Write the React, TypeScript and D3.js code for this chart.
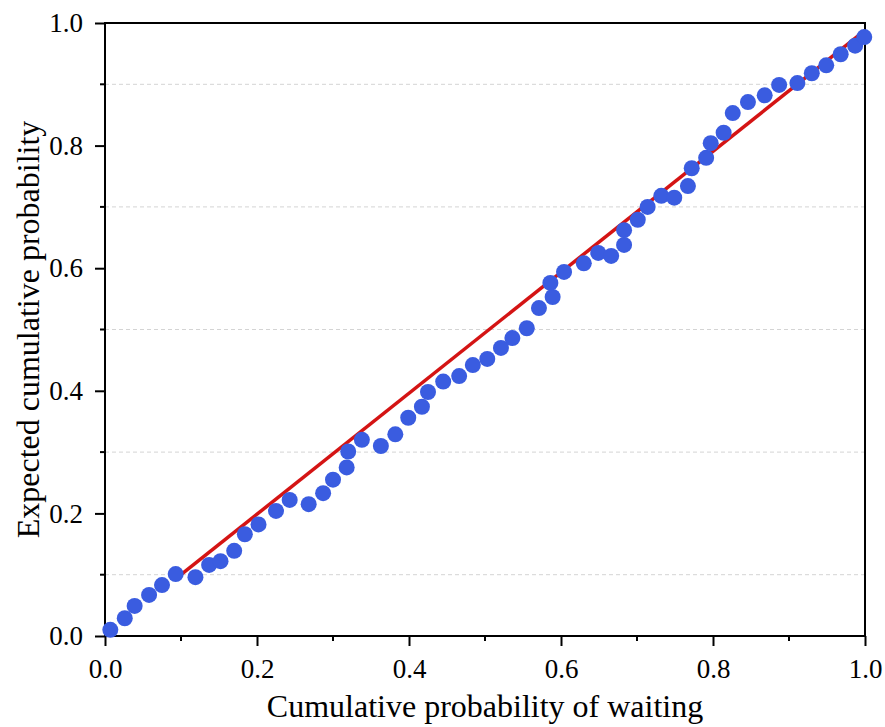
import React, { useEffect, useRef } from "react";
import * as d3 from "d3";

const waitingProb = [
  0.007, 0.026, 0.039, 0.058, 0.075, 0.093, 0.119, 0.137, 0.152, 0.170,
  0.184, 0.202, 0.225, 0.243, 0.268, 0.287, 0.300, 0.318, 0.320, 0.338,
  0.363, 0.382, 0.399, 0.417, 0.425, 0.445, 0.466, 0.484, 0.503, 0.521,
  0.536, 0.555, 0.571, 0.589, 0.586, 0.604, 0.630, 0.649, 0.666, 0.683,
  0.683, 0.701, 0.714, 0.732, 0.749, 0.767, 0.772, 0.791, 0.797, 0.814,
  0.826, 0.846, 0.868, 0.887, 0.911, 0.930, 0.949, 0.968, 0.987, 0.999
];
const expectedProb = [
  0.010, 0.029, 0.049, 0.067, 0.083, 0.101, 0.096, 0.116, 0.122, 0.139,
  0.166, 0.182, 0.204, 0.222, 0.215, 0.233, 0.255, 0.275, 0.301, 0.320,
  0.310, 0.329, 0.356, 0.374, 0.398, 0.415, 0.424, 0.442, 0.452, 0.470,
  0.486, 0.502, 0.535, 0.553, 0.576, 0.594, 0.608, 0.625, 0.620, 0.638,
  0.662, 0.679, 0.700, 0.718, 0.715, 0.734, 0.763, 0.780, 0.804, 0.821,
  0.853, 0.871, 0.882, 0.899, 0.902, 0.918, 0.931, 0.949, 0.963, 0.977
];
// reference line (expected = observed)
const refLine = [
  [0.1, 0.1],
  [1.0, 0.988]
];
const majorTicks = [0, 0.2, 0.4, 0.6, 0.8, 1.0];
const minorTicks = [0.1, 0.3, 0.5, 0.7, 0.9];

const App = () => {
  const ref = useRef<SVGSVGElement>(null);

  useEffect(() => {
    const svg = d3.select(ref.current);
    svg.selectAll("*").remove();

    const left = 105, right = 865, top = 23, bottom = 636;
    const x = d3.scaleLinear().domain([0, 1]).range([left, right]);
    const y = d3.scaleLinear().domain([0, 1]).range([bottom, top]);
    const font = "'Liberation Serif', 'Times New Roman', serif";

    // dashed grid at minor positions
    svg
      .append("g")
      .selectAll("line")
      .data(minorTicks)
      .enter()
      .append("line")
      .attr("x1", left)
      .attr("x2", right)
      .attr("y1", d => y(d))
      .attr("y2", d => y(d))
      .attr("stroke", "#d4d4d4")
      .attr("stroke-width", 1)
      .attr("stroke-dasharray", "4,3");

    // axes
    const xAxis = d3
      .axisBottom(x)
      .tickValues(majorTicks)
      .tickFormat(d3.format(".1f"))
      .tickSize(10)
      .tickPadding(13);
    const yAxis = d3
      .axisLeft(y)
      .tickValues(majorTicks)
      .tickFormat(d3.format(".1f"))
      .tickSize(10)
      .tickPadding(12);

    const gx = svg
      .append("g")
      .attr("transform", "translate(0," + bottom + ")")
      .call(xAxis);
    const gy = svg
      .append("g")
      .attr("transform", "translate(" + left + ",0)")
      .call(yAxis);
    [gx, gy].forEach(g => {
      g.select(".domain").remove();
      g.selectAll("line").attr("stroke", "#000").attr("stroke-width", 2);
      g.selectAll("text")
        .attr("font-family", font)
        .attr("font-size", 27)
        .attr("fill", "#000");
    });

    // minor ticks
    svg
      .append("g")
      .selectAll("line")
      .data(minorTicks)
      .enter()
      .append("line")
      .attr("x1", d => x(d))
      .attr("x2", d => x(d))
      .attr("y1", bottom)
      .attr("y2", bottom + 5)
      .attr("stroke", "#000")
      .attr("stroke-width", 2);
    svg
      .append("g")
      .selectAll("line")
      .data(minorTicks)
      .enter()
      .append("line")
      .attr("x1", left - 5)
      .attr("x2", left)
      .attr("y1", d => y(d))
      .attr("y2", d => y(d))
      .attr("stroke", "#000")
      .attr("stroke-width", 2);

    // frame
    svg
      .append("rect")
      .attr("x", left)
      .attr("y", top)
      .attr("width", right - left)
      .attr("height", bottom - top)
      .attr("fill", "none")
      .attr("stroke", "#000")
      .attr("stroke-width", 2);

    // reference line
    svg
      .append("path")
      .datum(refLine)
      .attr("d", d3.line().x(d => x(d[0])).y(d => y(d[1])))
      .attr("stroke", "#d41414")
      .attr("stroke-width", 3.5)
      .attr("fill", "none");

    // points
    svg
      .append("g")
      .selectAll("circle")
      .data(waitingProb)
      .enter()
      .append("circle")
      .attr("cx", d => x(d))
      .attr("cy", (d, i) => y(expectedProb[i]))
      .attr("r", 8)
      .attr("fill", "#3a5ce0");

    // titles
    svg
      .append("text")
      .attr("x", (left + right) / 2)
      .attr("y", 717)
      .attr("text-anchor", "middle")
      .attr("font-family", font)
      .attr("font-size", 32)
      .text("Cumulative probability of waiting");
    svg
      .append("text")
      .attr("transform", "translate(39," + (top + bottom) / 2 + ") rotate(-90)")
      .attr("text-anchor", "middle")
      .attr("font-family", font)
      .attr("font-size", 32)
      .text("Expected cumulative probability");
  }, []);

  return (
    <svg
      ref={ref}
      width={885}
      height={727}
      style={{ position: "absolute", left: 0, top: 0, background: "#fff" }}
    />
  );
};

export default App;
